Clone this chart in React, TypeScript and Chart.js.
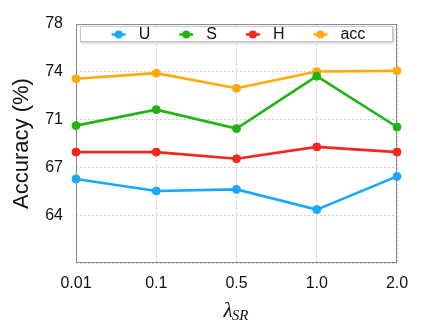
import React, { useEffect, useRef } from "react";
import { Chart, registerables } from "chart.js";

Chart.register(...registerables);

const categories = ["0.01", "0.1", "0.5", "1.0", "2.0"];
const seriesU = [66.65, 65.77, 65.89, 64.41, 66.84];
const seriesS = [70.56, 71.73, 70.34, 74.18, 70.46];
const seriesH = [68.62, 68.62, 68.13, 69.0, 68.62];
const seriesAcc = [73.99, 74.4, 73.3, 74.52, 74.57];
const seriesLabels = ["U", "S", "H", "acc"];
const seriesColors = ["#1aa7ff", "#22b414", "#f5261e", "#ffaa0a"];
const yTickLabels = ["", "64", "67", "71", "74", "78"];
const yMin = 60.5;
const yMax = 78;
const yStep = 3.5;
const yTitle = "Accuracy (%)";
const xTitleMain = "λ";
const xTitleSub = "SR";

const SANS = "'Liberation Sans', Arial, Helvetica, sans-serif";
const SERIF = "'Liberation Serif', 'Times New Roman', serif";

const decorPlugin = {
  id: "decor",
  beforeDatasetsDraw(chart: any) {
    const { ctx, chartArea: a } = chart;
    ctx.save();
    ctx.strokeStyle = "#8a8a8a";
    ctx.lineWidth = 1;
    ctx.strokeRect(a.left + 0.5, a.top + 0.5, a.right - a.left - 1, a.bottom - a.top - 1);
    ctx.restore();
  },
  afterDraw(chart: any) {
    const { ctx, chartArea: a } = chart;
    ctx.save();
    const bx = a.left + 4;
    const bw = a.right - a.left - 8;
    const by = a.top + 2;
    const bh = 16;
    ctx.shadowColor = "rgba(0,0,0,0.25)";
    ctx.shadowBlur = 2;
    ctx.shadowOffsetX = 1;
    ctx.shadowOffsetY = 1;
    ctx.fillStyle = "#ffffff";
    ctx.fillRect(bx, by, bw, bh);
    ctx.shadowColor = "transparent";
    ctx.strokeStyle = "#c8c8c8";
    ctx.lineWidth = 1;
    ctx.strokeRect(bx + 0.5, by + 0.5, bw - 1, bh - 1);

    ctx.font = "16px " + SANS;
    ctx.textBaseline = "middle";
    ctx.textAlign = "left";
    const ds = chart.data.datasets;
    const lineHalf = 7;
    const textGap = 13;
    const itemGap = 36;
    const widths = ds.map((d: any) => ctx.measureText(d.label).width);
    let total = 0;
    ds.forEach((_: any, i: number) => {
      total += lineHalf + textGap + widths[i];
      if (i < ds.length - 1) total += itemGap;
    });
    let x = bx + bw / 2 - (total + lineHalf) / 2 + lineHalf + 2;
    const cy = by + bh / 2 + 0.5;
    ds.forEach((d: any, i: number) => {
      ctx.strokeStyle = d.borderColor;
      ctx.lineWidth = 2.5;
      ctx.beginPath();
      ctx.moveTo(x - lineHalf, cy);
      ctx.lineTo(x + lineHalf, cy);
      ctx.stroke();
      ctx.fillStyle = d.borderColor;
      ctx.beginPath();
      ctx.arc(x, cy, 4, 0, Math.PI * 2);
      ctx.fill();
      ctx.fillStyle = "#111";
      ctx.fillText(d.label, x + lineHalf + textGap, cy);
      x += lineHalf + textGap + widths[i] + itemGap;
    });

    ctx.fillStyle = "#111";
    ctx.textBaseline = "alphabetic";
    const mainFont = "italic 21px " + SERIF;
    const subFont = "italic 15px " + SERIF;
    ctx.font = mainFont;
    const mw = ctx.measureText(xTitleMain).width;
    ctx.font = subFont;
    const sw = ctx.measureText(xTitleSub).width;
    const cx = (a.left + a.right) / 2;
    const sx = cx - (mw + sw) / 2;
    ctx.font = mainFont;
    ctx.fillText(xTitleMain, sx, 317);
    ctx.font = subFont;
    ctx.fillText(xTitleSub, sx + mw - 1, 320);
    ctx.restore();
  },
};

export default function App() {
  const ref = useRef<HTMLCanvasElement | null>(null);
  useEffect(() => {
    if (!ref.current) return;
    const all = [seriesU, seriesS, seriesH, seriesAcc];
    const chart = new Chart(ref.current, {
      type: "line",
      data: {
        labels: categories,
        datasets: all.map((vals, i) => ({
          label: seriesLabels[i],
          data: vals,
          borderColor: seriesColors[i],
          backgroundColor: seriesColors[i],
          pointBackgroundColor: seriesColors[i],
          pointBorderColor: seriesColors[i],
          borderWidth: 2.6,
          pointRadius: 4,
          pointBorderWidth: 1,
          tension: 0,
          clip: false as any,
        })),
      },
      options: {
        animation: false,
        responsive: false,
        maintainAspectRatio: false,
        layout: { padding: { left: 0, right: 35, top: 24, bottom: 0 } },
        plugins: { legend: { display: false }, tooltip: { enabled: false }, title: { display: false } },
        scales: {
          x: {
            type: "category",
            offset: false,
            border: { display: false, dash: [2, 2] },
            grid: { color: "#d2d2d2", drawTicks: false },
            ticks: { color: "#111", font: { size: 16, family: SANS }, padding: 11, maxRotation: 0 },
            afterFit: (s: any) => { s.height = 64; },
          },
          y: {
            type: "linear",
            min: yMin,
            max: yMax,
            border: { display: false, dash: [2, 2] },
            grid: { color: "#d2d2d2", drawTicks: false },
            ticks: {
              stepSize: yStep,
              color: "#111",
              font: { size: 16, family: SANS },
              padding: 13,
              callback: (_v: any, i: number) => yTickLabels[i],
            },
            title: {
              display: true,
              text: yTitle,
              color: "#111",
              font: { size: 22, family: SANS },
              padding: { top: 9, bottom: 0 },
            },
            afterFit: (s: any) => { s.width = 76; },
          },
        },
      },
      plugins: [decorPlugin],
    } as any);
    return () => chart.destroy();
  }, []);
  return (
    <div style={{ position: "fixed", left: 0, top: 0, width: 432, height: 327, background: "#fff" }}>
      <canvas ref={ref} width={432} height={327} style={{ width: 432, height: 327 }} />
    </div>
  );
}
